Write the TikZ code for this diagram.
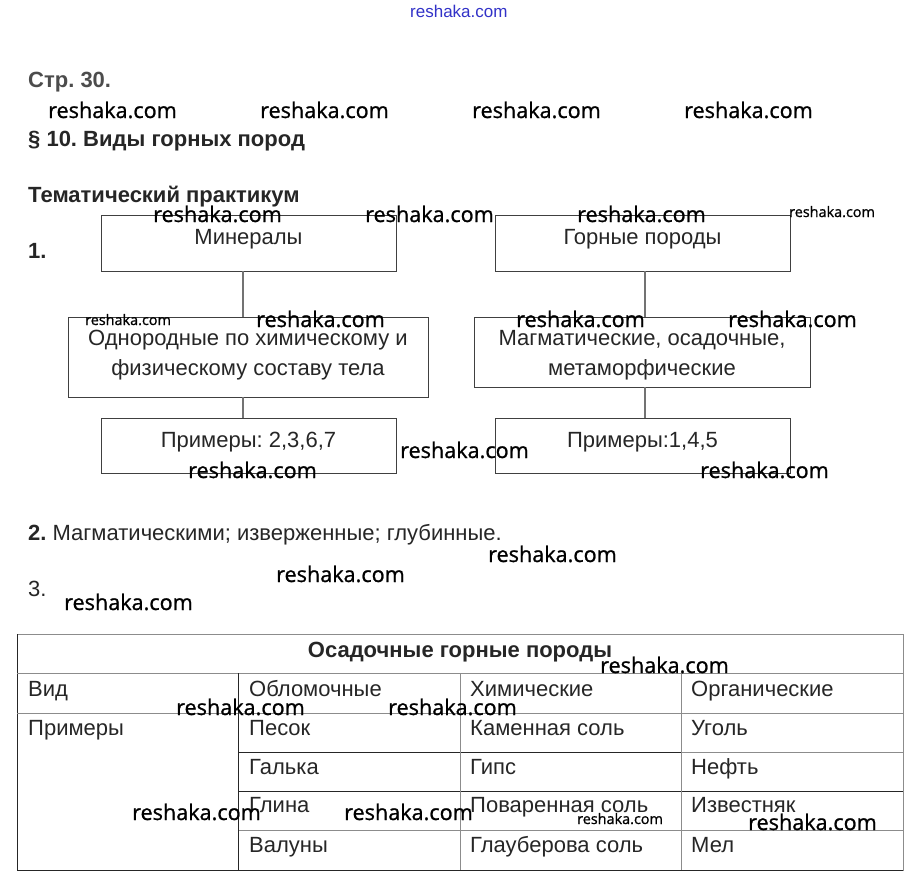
\documentclass[tikz,border=0pt]{standalone}
\usepackage{fontspec}
\setmainfont{Liberation Sans}
\newfontfamily\wmfont{Open Sans}[FakeBold=1]
\frenchspacing
\begin{document}
\begin{tikzpicture}[x=1pt,y=-1pt,
  txt/.style={inner sep=0pt, anchor=base west, text=black!85, font=\fontsize{22}{26}\selectfont},
  ctxt/.style={txt, anchor=base},
  bold/.style={txt, font=\fontsize{22}{26}\selectfont\bfseries},
  wm/.style={inner sep=0pt, anchor=base west, text=black, font=\wmfont\fontsize{21.6}{26}\selectfont},
  wms/.style={wm, font=\wmfont\fontsize{14.4}{17}\selectfont},
  box/.style={draw=black!75, line width=0.9pt, inner sep=0pt, fill=none},
  conn/.style={draw=black!55, line width=1.2pt},
  tline/.style={draw=black!45, line width=0.9pt},
  tdark/.style={draw=black!85, line width=0.9pt}]
\useasboundingbox[fill=white] (0,0) rectangle (916,886);

% top blue watermark
\node[inner sep=0pt, anchor=base west, text={rgb,255:red,50;green,50;blue,200}, font=\fontsize{17}{20}\selectfont] (wtop) at (410,17) {reshaka.com};

% headings
\node[bold, text=black!70] (page) at (28,87) {Стр. 30.};
\node[wm] (w1) at (48,118) {reshaka.com};
\node[wm] (w2) at (260,118) {reshaka.com};
\node[wm] (w3) at (472,118) {reshaka.com};
\node[wm] (w4) at (684,118) {reshaka.com};
\node[bold] (sec) at (28,146) {§ 10. Виды горных пород};
\node[bold] (prak) at (28,202) {Тематический практикум};
\node[bold] (n1) at (28,258) {1.};

% diagram boxes
\node[box, minimum width=295pt, minimum height=56pt] (min) at (248.5,243) {};
\node[box, minimum width=295pt, minimum height=56pt] (gor) at (642.5,243) {};
\node[box, minimum width=360pt, minimum height=80pt] (odn) at (248,357) {};
\node[box, minimum width=336pt, minimum height=70pt] (mag) at (642,352) {};
\node[box, minimum width=295pt, minimum height=55pt] (pr1) at (248.5,445.5) {};
\node[box, minimum width=295pt, minimum height=55pt] (pr2) at (642.5,445.5) {};

\node[ctxt] (tmin) at (248.5,244) {Минералы};
\node[ctxt] (tgor) at (642.5,244) {Горные породы};
\node[ctxt] (todn1) at (248,345) {Однородные по химическому и};
\node[ctxt] (todn2) at (248,375) {физическому составу тела};
\node[ctxt] (tmag1) at (642,345) {Магматические, осадочные,};
\node[ctxt] (tmag2) at (642,375) {метаморфические};
\node[ctxt] (tpr1) at (248.5,447) {Примеры: 2,3,6,7};
\node[ctxt] (tpr2) at (642.5,447) {Примеры:1,4,5};

% connectors
\draw[conn] ([xshift=-5.5pt]min.south) -- ([xshift=-5.5pt]min.south |- odn.north);
\draw[conn] ([xshift=-5pt]odn.south) -- ([xshift=-5pt]odn.south |- pr1.north);
\draw[conn] ([xshift=2.5pt]gor.south) -- ([xshift=2.5pt]gor.south |- mag.north);
\draw[conn] ([xshift=3pt]mag.south) -- ([xshift=3pt]mag.south |- pr2.north);

% diagram watermarks
\node[wm] (w5) at (153,222) {reshaka.com};
\node[wm] (w6) at (365,222) {reshaka.com};
\node[wm] (w7) at (577,222) {reshaka.com};
\node[wms] (w8) at (789,217) {reshaka.com};
\node[wms] (w9) at (85,325) {reshaka.com};
\node[wm] (w10) at (256,327) {reshaka.com};
\node[wm] (w11) at (516,327) {reshaka.com};
\node[wm] (w12) at (728,327) {reshaka.com};
\node[wm] (w13) at (400,458) {reshaka.com};
\node[wm] (w14) at (188,478) {reshaka.com};
\node[wm] (w15) at (700,478) {reshaka.com};

% task 2, 3
\node[txt] (t2) at (28,540) {\textbf{2.} Магматическими; изверженные; глубинные.};
\node[wm] (w16) at (488,562) {reshaka.com};
\node[wm] (w17) at (276,582) {reshaka.com};
\node[txt] (n3) at (28,596) {3.};
\node[wm] (w18) at (64,610) {reshaka.com};

% table
\draw[tline] (17,634) rectangle (903,870);
\draw[tdark] (17,634) -- (17,870) -- (903,870);
\draw[tline] (17,673) -- (903,673);
\draw[tline] (17,713) -- (903,713);
\draw[tdark] (238,752) -- (681,752);
\draw[tdark] (238,791) -- (681,791);
\draw[tline] (238,830) -- (903,830);
\draw[tline] (681,752) -- (903,752);
\draw[tdark] (681,791) -- (903,791);
\draw[tdark] (238,673) -- (238,870);
\draw[tline] (460,673) -- (460,870);
\draw[tline] (681,673) -- (681,870);

\node[bold, anchor=base] (th) at (460,657) {Осадочные горные породы};
\node[txt] (c11) at (28,696) {Вид};
\node[txt] (c12) at (249,696) {Обломочные};
\node[txt] (c13) at (470,696) {Химические};
\node[txt] (c14) at (691,696) {Органические};
\node[txt] (c21) at (28,735) {Примеры};
\node[txt] (c22) at (249,735) {Песок};
\node[txt] (c23) at (470,735) {Каменная соль};
\node[txt] (c24) at (691,735) {Уголь};
\node[txt] (c32) at (249,774) {Галька};
\node[txt] (c33) at (470,774) {Гипс};
\node[txt] (c34) at (691,774) {Нефть};
\node[txt] (c42) at (249,812) {Глина};
\node[txt] (c43) at (470,812) {Поваренная соль};
\node[txt] (c44) at (691,812) {Известняк};
\node[txt] (c52) at (249,852) {Валуны};
\node[txt] (c53) at (470,852) {Глауберова соль};
\node[txt] (c54) at (691,852) {Мел};

% table watermarks
\node[wm] (w19) at (600,673) {reshaka.com};
\node[wm] (w20) at (176,715) {reshaka.com};
\node[wm] (w21) at (388,715) {reshaka.com};
\node[wm] (w22) at (132,820) {reshaka.com};
\node[wm] (w23) at (344,820) {reshaka.com};
\node[wms] (w24) at (577,824) {reshaka.com};
\node[wm] (w25) at (748,830) {reshaka.com};
\end{tikzpicture}
\end{document}
